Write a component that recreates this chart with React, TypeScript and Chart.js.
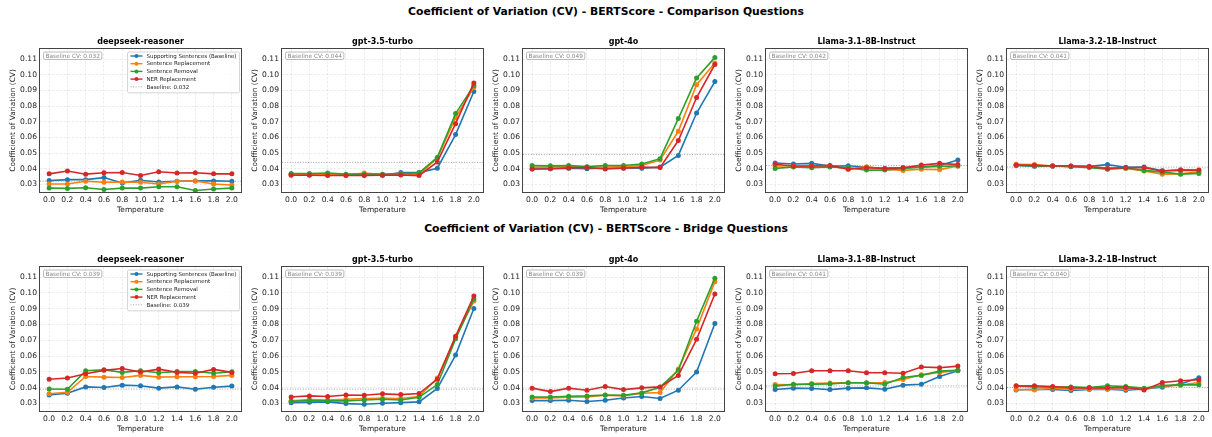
import React, { useEffect, useRef } from "react";
import { Chart, registerables } from "chart.js";

Chart.register(...registerables);

const FONT = "'DejaVu Sans', 'Liberation Sans', sans-serif";

const TEMPERATURES = [0.0, 0.2, 0.4, 0.6, 0.8, 1.0, 1.2, 1.4, 1.6, 1.8, 2.0];
const X_TICKS = [0.0, 0.2, 0.4, 0.6, 0.8, 1.0, 1.2, 1.4, 1.6, 1.8, 2.0];
const Y_TICKS = [0.03, 0.04, 0.05, 0.06, 0.07, 0.08, 0.09, 0.1, 0.11];
const X_RANGE = [-0.1, 2.1];
const Y_RANGE = [0.0251, 0.1165];

const SERIES_NAMES = [
  "Supporting Sentences (Baseline)",
  "Sentence Replacement",
  "Sentence Removal",
  "NER Replacement",
];
const SERIES_COLORS = ["#1f77b4", "#ff7f0e", "#2ca02c", "#d62728"];
const MODELS = [
  "deepseek-reasoner",
  "gpt-3.5-turbo",
  "gpt-4o",
  "Llama-3.1-8B-Instruct",
  "Llama-3.2-1B-Instruct",
];
const ROW_TITLES = [
  "Coefficient of Variation (CV) - BERTScore - Comparison Questions",
  "Coefficient of Variation (CV) - BERTScore - Bridge Questions",
];
const X_LABEL = "Temperature";
const Y_LABEL = "Coefficient of Variation (CV)";

// Comparison questions: rows = [Supporting, Replacement, Removal, NER]
const CMP_DEEPSEEK = [
  [0.0324, 0.033, 0.033, 0.0343, 0.0309, 0.0326, 0.0315, 0.032, 0.0322, 0.0322, 0.032],
  [0.0302, 0.0302, 0.032, 0.0313, 0.0315, 0.0313, 0.0302, 0.032, 0.0322, 0.0302, 0.0296],
  [0.0276, 0.0274, 0.0278, 0.0267, 0.0276, 0.0276, 0.0285, 0.0285, 0.0261, 0.027, 0.0276],
  [0.0367, 0.0385, 0.0365, 0.0374, 0.0376, 0.0357, 0.038, 0.0372, 0.0374, 0.0367, 0.0367],
];
const CMP_GPT35 = [
  [0.0365, 0.0363, 0.0365, 0.036, 0.036, 0.0358, 0.0375, 0.0375, 0.0403, 0.0618, 0.0893],
  [0.0363, 0.0363, 0.0362, 0.036, 0.0372, 0.0363, 0.0368, 0.0362, 0.047, 0.0726, 0.092],
  [0.0369, 0.0369, 0.0372, 0.0365, 0.0365, 0.0365, 0.0368, 0.0373, 0.0472, 0.0752, 0.0931],
  [0.0358, 0.0358, 0.0356, 0.0356, 0.0356, 0.0358, 0.036, 0.0356, 0.0443, 0.0688, 0.0948],
];
const CMP_GPT4O = [
  [0.0398, 0.04, 0.0403, 0.04, 0.0405, 0.0405, 0.0403, 0.041, 0.0485, 0.0756, 0.0957],
  [0.041, 0.041, 0.0413, 0.041, 0.041, 0.0413, 0.042, 0.0455, 0.0639, 0.0937, 0.1076],
  [0.042, 0.0418, 0.042, 0.0413, 0.042, 0.042, 0.043, 0.0464, 0.072, 0.098, 0.111],
  [0.0398, 0.04, 0.0405, 0.0408, 0.0398, 0.0403, 0.041, 0.0407, 0.058, 0.0855, 0.1066],
];
const CMP_LLAMA31 = [
  [0.0436, 0.043, 0.0434, 0.0417, 0.0419, 0.0409, 0.0402, 0.0406, 0.0411, 0.042, 0.0456],
  [0.0417, 0.0417, 0.0415, 0.0415, 0.0398, 0.0413, 0.0396, 0.0389, 0.0396, 0.0394, 0.0417],
  [0.0402, 0.0411, 0.0406, 0.0411, 0.0406, 0.0391, 0.0391, 0.0402, 0.0409, 0.0415, 0.0417],
  [0.0428, 0.0417, 0.0417, 0.0421, 0.0396, 0.0406, 0.0402, 0.0406, 0.0423, 0.0434, 0.0426],
];
const CMP_LLAMA32 = [
  [0.0422, 0.0415, 0.0417, 0.0415, 0.0415, 0.0426, 0.0409, 0.0411, 0.0387, 0.0391, 0.0389],
  [0.0428, 0.0426, 0.0417, 0.0417, 0.0413, 0.0402, 0.0402, 0.0385, 0.0365, 0.0367, 0.038],
  [0.042, 0.0417, 0.0417, 0.0413, 0.0407, 0.0396, 0.0404, 0.0389, 0.0378, 0.0365, 0.037],
  [0.0424, 0.0422, 0.0417, 0.0417, 0.0413, 0.0402, 0.0407, 0.0407, 0.0385, 0.0391, 0.0391],
];
const CMP_BASELINES = [0.032, 0.044, 0.049, 0.042, 0.041];

// Bridge questions
const BRG_DEEPSEEK = [
  [0.0353, 0.0364, 0.0404, 0.04, 0.0415, 0.0411, 0.0396, 0.0404, 0.0389, 0.0402, 0.0409],
  [0.036, 0.037, 0.047, 0.0466, 0.0464, 0.0477, 0.0466, 0.0468, 0.0468, 0.047, 0.0477],
  [0.0391, 0.0389, 0.0506, 0.0513, 0.0496, 0.0506, 0.0494, 0.0502, 0.0502, 0.0491, 0.05],
  [0.0453, 0.046, 0.0487, 0.0509, 0.0521, 0.0498, 0.0517, 0.0496, 0.0491, 0.0515, 0.0496],
];
const BRG_GPT35 = [
  [0.0304, 0.0306, 0.0309, 0.0298, 0.0294, 0.03, 0.0304, 0.0309, 0.0394, 0.0606, 0.0902],
  [0.0315, 0.0323, 0.0321, 0.0326, 0.033, 0.0332, 0.033, 0.0343, 0.046, 0.0719, 0.0949],
  [0.0313, 0.0317, 0.0315, 0.0315, 0.0321, 0.0326, 0.0321, 0.0338, 0.0419, 0.0709, 0.0962],
  [0.034, 0.0347, 0.0343, 0.0353, 0.0351, 0.036, 0.0355, 0.0362, 0.0453, 0.0726, 0.0981],
];
const BRG_GPT4O = [
  [0.0317, 0.0317, 0.0319, 0.0311, 0.0319, 0.0334, 0.0343, 0.033, 0.0383, 0.0498, 0.0806],
  [0.0334, 0.0334, 0.0338, 0.034, 0.0351, 0.0347, 0.0364, 0.0368, 0.0517, 0.0772, 0.1072],
  [0.034, 0.034, 0.0345, 0.0347, 0.0353, 0.0351, 0.0366, 0.0402, 0.0509, 0.0821, 0.1094],
  [0.0396, 0.0374, 0.0396, 0.0383, 0.0406, 0.0387, 0.0398, 0.0404, 0.0477, 0.0706, 0.0994],
];
const BRG_LLAMA31 = [
  [0.0387, 0.0396, 0.0394, 0.0387, 0.0396, 0.0398, 0.0389, 0.0415, 0.0421, 0.047, 0.0506],
  [0.0419, 0.0417, 0.0426, 0.0428, 0.043, 0.0428, 0.0432, 0.0451, 0.0481, 0.0496, 0.0509],
  [0.0409, 0.0421, 0.0421, 0.0423, 0.043, 0.043, 0.0421, 0.0464, 0.0477, 0.0504, 0.0509],
  [0.0487, 0.0489, 0.0506, 0.0506, 0.0506, 0.0494, 0.0494, 0.0491, 0.053, 0.0526, 0.0536],
];
const BRG_LLAMA32 = [
  [0.0385, 0.0389, 0.0387, 0.0381, 0.0387, 0.0389, 0.0383, 0.0391, 0.0402, 0.0423, 0.0462],
  [0.0387, 0.0385, 0.0396, 0.0391, 0.0391, 0.0391, 0.0391, 0.0391, 0.0409, 0.0415, 0.0432],
  [0.0411, 0.0404, 0.0402, 0.0404, 0.04, 0.0411, 0.0406, 0.0396, 0.0413, 0.0417, 0.0417],
  [0.0409, 0.0411, 0.0406, 0.0398, 0.0398, 0.0398, 0.04, 0.0385, 0.0432, 0.0443, 0.0449],
];
const BRG_BASELINES = [0.039, 0.039, 0.039, 0.041, 0.04];

const ROWS = [
  { title: ROW_TITLES[0], data: [CMP_DEEPSEEK, CMP_GPT35, CMP_GPT4O, CMP_LLAMA31, CMP_LLAMA32], baselines: CMP_BASELINES },
  { title: ROW_TITLES[1], data: [BRG_DEEPSEEK, BRG_GPT35, BRG_GPT4O, BRG_LLAMA31, BRG_LLAMA32], baselines: BRG_BASELINES },
];

// ---- layout (pixels) ----
const PLOT_LEFTS = [40, 282, 523, 766, 1007];
const PLOT_W = 203;
const ROW_PLOT_TOP = [49, 267];
const ROW_PLOT_BOTTOM = [192, 411];
const ROW_TITLE_Y = [11, 228];
const Y_AXIS_W = 40;
const X_AXIS_H = 27;
const TOP_BLOCK = 15;
const PAD_R = 2;

const TEXT = "#1a1a1a";
const GRID = "rgba(176,176,176,0.3)";

function rr(ctx: CanvasRenderingContext2D, x: number, y: number, w: number, h: number, r: number) {
  ctx.beginPath();
  ctx.moveTo(x + r, y);
  ctx.lineTo(x + w - r, y);
  ctx.arcTo(x + w, y, x + w, y + r, r);
  ctx.lineTo(x + w, y + h - r);
  ctx.arcTo(x + w, y + h, x + w - r, y + h, r);
  ctx.lineTo(x + r, y + h);
  ctx.arcTo(x, y + h, x, y + h - r, r);
  ctx.lineTo(x, y + r);
  ctx.arcTo(x, y, x + r, y, r);
  ctx.closePath();
}

const decorPlugin = {
  id: "decor",
  afterDatasetsDraw(chart: any) {
    const o = chart.options.plugins.decor;
    const { ctx, chartArea: a, scales } = chart;
    const y = scales.y.getPixelForValue(o.baseline);
    ctx.save();
    ctx.strokeStyle = "rgba(128,128,128,0.7)";
    ctx.lineWidth = 1;
    ctx.setLineDash([1, 1.6]);
    ctx.beginPath();
    ctx.moveTo(a.left, y);
    ctx.lineTo(a.right, y);
    ctx.stroke();
    ctx.setLineDash([]);
    ctx.strokeStyle = "#444";
    ctx.lineWidth = 1;
    ctx.strokeRect(a.left - 0.5, a.top - 0.5, a.right - a.left + 1, a.bottom - a.top + 1);
    ctx.restore();
  },
  afterDraw(chart: any) {
    const o = chart.options.plugins.decor;
    const { ctx, chartArea: a } = chart;
    ctx.save();
    // Baseline CV box
    ctx.font = `5.8px ${FONT}`;
    const txt = `Baseline CV: ${o.baseline.toFixed(3)}`;
    const tw = ctx.measureText(txt).width;
    const bx = a.left + 3.5;
    const by = a.top + 3;
    const bw = tw + 4;
    const bh = 7.5;
    rr(ctx, bx, by, bw, bh, 1.5);
    ctx.fillStyle = "rgba(255,255,255,0.85)";
    ctx.fill();
    ctx.strokeStyle = "#aaaaaa";
    ctx.lineWidth = 0.8;
    ctx.stroke();
    ctx.fillStyle = "#8a8a8a";
    ctx.textBaseline = "middle";
    ctx.textAlign = "left";
    ctx.fillText(txt, bx + 2, by + bh / 2 + 0.3);

    if (o.showLegend) {
      ctx.font = `5.5px ${FONT}`;
      const labels = [...SERIES_NAMES, `Baseline: ${o.baseline.toFixed(3)}`];
      const maxW = Math.max(...labels.map((l) => ctx.measureText(l).width));
      const boxW = 19 + maxW + 3;
      const rowH = 7.7;
      const boxH = 4 + rowH * 4 + 6;
      const x0 = a.right - 1.5 - boxW;
      const y0 = a.top + 3;
      rr(ctx, x0, y0, boxW, boxH, 1.5);
      ctx.fillStyle = "rgba(255,255,255,0.85)";
      ctx.fill();
      ctx.strokeStyle = "#cccccc";
      ctx.lineWidth = 0.8;
      ctx.stroke();
      labels.forEach((lab, i) => {
        const cy = y0 + 4 + rowH * i;
        if (i < SERIES_NAMES.length) {
          ctx.strokeStyle = SERIES_COLORS[i];
          ctx.fillStyle = SERIES_COLORS[i];
          ctx.lineWidth = 1.4;
          ctx.setLineDash([]);
          ctx.beginPath();
          ctx.moveTo(x0 + 3, cy);
          ctx.lineTo(x0 + 15, cy);
          ctx.stroke();
          ctx.beginPath();
          ctx.arc(x0 + 9, cy, 2, 0, Math.PI * 2);
          ctx.fill();
        } else {
          ctx.strokeStyle = "rgba(128,128,128,0.7)";
          ctx.lineWidth = 1;
          ctx.setLineDash([1, 1.6]);
          ctx.beginPath();
          ctx.moveTo(x0 + 3, cy);
          ctx.lineTo(x0 + 15, cy);
          ctx.stroke();
          ctx.setLineDash([]);
        }
        ctx.fillStyle = TEXT;
        ctx.textBaseline = "middle";
        ctx.fillText(lab, x0 + 19, cy + 0.3);
      });
    }
    ctx.restore();
  },
};

type SubProps = {
  title: string;
  series: number[][];
  baseline: number;
  showLegend: boolean;
  plotLeft: number;
  plotTop: number;
  plotBottom: number;
};

function SubPlot({ title, series, baseline, showLegend, plotLeft, plotTop, plotBottom }: SubProps) {
  const ref = useRef<HTMLCanvasElement>(null);
  const width = Y_AXIS_W + PLOT_W + PAD_R;
  const height = TOP_BLOCK + (plotBottom - plotTop) + X_AXIS_H;

  useEffect(() => {
    if (!ref.current) return;
    const tickFont = { family: FONT, size: 7.6 };
    const labelFont = { family: FONT, size: 7.4 };
    const chart = new Chart(ref.current, {
      type: "line",
      data: {
        datasets: series.map((vals, i) => ({
          label: SERIES_NAMES[i],
          data: TEMPERATURES.map((t, j) => ({ x: t, y: vals[j] })),
          borderColor: SERIES_COLORS[i],
          backgroundColor: SERIES_COLORS[i],
          pointBackgroundColor: SERIES_COLORS[i],
          pointBorderWidth: 0,
          pointRadius: 2.5,
          borderWidth: 1.6,
          tension: 0,
          fill: false,
          order: SERIES_NAMES.length - 1 - i,
        })),
      },
      options: {
        animation: false,
        responsive: false,
        devicePixelRatio: 1,
        layout: { padding: { top: 3.5, right: PAD_R, left: 0, bottom: 0 } },
        plugins: {
          legend: { display: false },
          tooltip: { enabled: false },
          title: {
            display: true,
            text: title,
            fullSize: false,
            color: "#000",
            font: { family: FONT, size: 8, weight: "bold", lineHeight: 1.2 },
            padding: { top: 0, bottom: 1.9 },
          },
          decor: { baseline, showLegend },
        } as any,
        scales: {
          x: {
            type: "linear",
            min: X_RANGE[0],
            max: X_RANGE[1],
            afterBuildTicks: (s: any) => {
              s.ticks = X_TICKS.map((v) => ({ value: v }));
            },
            afterFit: (s: any) => {
              s.height = X_AXIS_H;
            },
            ticks: {
              callback: (v: any) => Number(v).toFixed(1),
              font: tickFont,
              color: TEXT,
              padding: 3.5,
              autoSkip: false,
              maxRotation: 0,
              minRotation: 0,
            },
            grid: { color: GRID, lineWidth: 0.8, drawTicks: false },
            border: { display: false, dash: [2.5, 1.5] },
            title: {
              display: true,
              text: X_LABEL,
              color: TEXT,
              font: labelFont,
              padding: { top: 0, bottom: 4.6 },
            },
          },
          y: {
            type: "linear",
            min: Y_RANGE[0],
            max: Y_RANGE[1],
            afterBuildTicks: (s: any) => {
              s.ticks = Y_TICKS.map((v) => ({ value: v }));
            },
            afterFit: (s: any) => {
              s.width = Y_AXIS_W;
            },
            ticks: {
              callback: (v: any) => Number(v).toFixed(2),
              font: tickFont,
              color: TEXT,
              padding: 3,
              autoSkip: false,
            },
            grid: { color: GRID, lineWidth: 0.8, drawTicks: false },
            border: { display: false, dash: [2.5, 1.5] },
            title: {
              display: true,
              text: Y_LABEL,
              color: TEXT,
              font: labelFont,
              padding: { top: 8.6, bottom: 0 },
            },
          },
        },
      } as any,
      plugins: [decorPlugin],
    });
    return () => chart.destroy();
  }, [title, series, baseline, showLegend]);

  return (
    <canvas
      ref={ref}
      width={width}
      height={height}
      style={{
        position: "absolute",
        left: plotLeft - Y_AXIS_W,
        top: plotTop - TOP_BLOCK,
        width,
        height,
      }}
    />
  );
}

export default function App() {
  return (
    <div
      style={{
        position: "absolute",
        left: 0,
        top: 0,
        width: 1212,
        height: 437,
        background: "#fff",
        overflow: "hidden",
      }}
    >
      {ROWS.map((row, r) => (
        <React.Fragment key={r}>
          <div
            style={{
              position: "absolute",
              left: 0,
              width: 1212,
              top: ROW_TITLE_Y[r] - 6.5,
              height: 13,
              lineHeight: "13px",
              textAlign: "center",
              fontFamily: FONT,
              fontWeight: "bold",
              fontSize: 10.8,
              color: "#000",
              whiteSpace: "nowrap",
            }}
          >
            {row.title}
          </div>
          {MODELS.map((m, i) => (
            <SubPlot
              key={m}
              title={m}
              series={row.data[i]}
              baseline={row.baselines[i]}
              showLegend={i === 0}
              plotLeft={PLOT_LEFTS[i]}
              plotTop={ROW_PLOT_TOP[r]}
              plotBottom={ROW_PLOT_BOTTOM[r]}
            />
          ))}
        </React.Fragment>
      ))}
    </div>
  );
}
